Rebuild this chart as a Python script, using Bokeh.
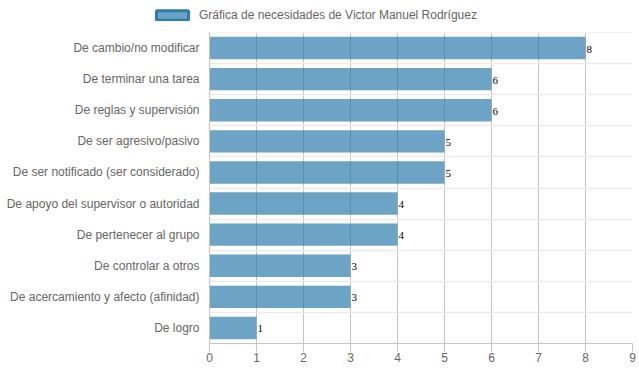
from bokeh.plotting import figure
from bokeh.layouts import column
from bokeh.models import (ColumnDataSource, FactorRange, Range1d, FixedTicker,
                          Legend, LegendItem)
from bokeh.core.properties import value
from bokeh.embed import file_html
from bokeh.resources import INLINE

# ---- data ----
categories = [
    "De cambio/no modificar",
    "De terminar una tarea",
    "De reglas y supervisión",
    "De ser agresivo/pasivo",
    "De ser notificado (ser considerado)",
    "De apoyo del supervisor o autoridad",
    "De pertenecer al grupo",
    "De controlar a otros",
    "De acercamiento y afecto (afinidad)",
    "De logro",
]
values = [8, 6, 6, 5, 5, 4, 4, 3, 3, 1]
x_ticks = [0, 1, 2, 3, 4, 5, 6, 7, 8, 9]
series_name = "Gráfica de necesidades de Victor Manuel Rodríguez"

source = ColumnDataSource(dict(cat=categories, val=values,
                               lab=[str(v) for v in values]))

FONT = "Liberation Sans"
GRID_V = "#c4c4c4"
GRID_H = "#ebebeb"
BAR_BORDER = "#2f7cab"

# ---- header figure holding the legend ----
head = figure(width=639, height=31, output_backend="svg", toolbar_location=None,
              x_axis_type=None, y_axis_type=None, min_border=0,
              x_range=Range1d(0, 1), y_range=Range1d(0, 1))
head.outline_line_color = None
head.grid.visible = False
if "frame_align" in head.properties():
    head.frame_align = False
# swatch-style renderer, placed outside the visible range (legend only)
swatch = head.hbar(y=-5, right=0, left=0, height=0.72,
                   fill_color=BAR_BORDER, fill_alpha=0.7,
                   line_color=BAR_BORDER, line_width=3)
legend = Legend(items=[LegendItem(label=series_name, renderers=[swatch])],
                location=(152, 9), orientation="horizontal",
                glyph_width=40, glyph_height=12, label_height=12,
                label_standoff=7, padding=0, margin=0, spacing=0,
                border_line_alpha=0, background_fill_alpha=0,
                label_text_font=FONT, label_text_font_size="12px",
                label_text_color="#666666")
head.add_layout(legend, "center")

# ---- main chart ----
p = figure(width=639, height=341, output_backend="svg", toolbar_location=None,
           y_range=FactorRange(factors=list(reversed(categories)), range_padding=0),
           x_range=Range1d(0, 9),
           min_border_left=209, min_border_right=7, min_border_top=1,
           min_border_bottom=29)
p.outline_line_color = None
p.background_fill_color = "white"
if "frame_align" in p.properties():
    p.frame_align = False

bars = p.hbar(y="cat", right="val", left=0, height=0.72, source=source,
              fill_color=BAR_BORDER, fill_alpha=0.7, line_color=None)

p.text(x="val", y="cat", text="lab", source=source, x_offset=1, y_offset=1,
       text_font=value("Liberation Serif"), text_font_size="11px",
       text_color="black", text_baseline="alphabetic", text_align="left")

# axes
p.xaxis.ticker = FixedTicker(ticks=x_ticks)
p.xaxis.axis_line_color = GRID_V
p.xaxis.major_tick_line_color = GRID_V
p.xaxis.major_tick_out = 8
p.xaxis.major_tick_in = 0
p.xaxis.minor_tick_line_color = None
p.xaxis.major_label_standoff = 1
p.xaxis.major_label_text_font = FONT
p.xaxis.major_label_text_font_size = "12px"
p.xaxis.major_label_text_color = "#666666"

p.yaxis.axis_line_color = GRID_V
p.yaxis.major_tick_line_color = None
p.yaxis.major_tick_out = 0
p.yaxis.major_tick_in = 0
p.yaxis.major_label_standoff = 10
p.yaxis.major_label_text_font = FONT
p.yaxis.major_label_text_font_size = "12px"
p.yaxis.major_label_text_color = "#666666"

# grids
p.xgrid.ticker = FixedTicker(ticks=x_ticks)
p.xgrid.grid_line_color = GRID_V
p.ygrid.ticker = FixedTicker(ticks=[i for i in range(1, len(categories))] + [len(categories) - 0.001])
p.ygrid.grid_line_color = GRID_H
p.ygrid.grid_line_width = 1.5
p.xgrid.level = "underlay"
p.ygrid.level = "underlay"

layout = column(head, p, spacing=0)
open("out.html", "w").write(file_html(layout, INLINE))
